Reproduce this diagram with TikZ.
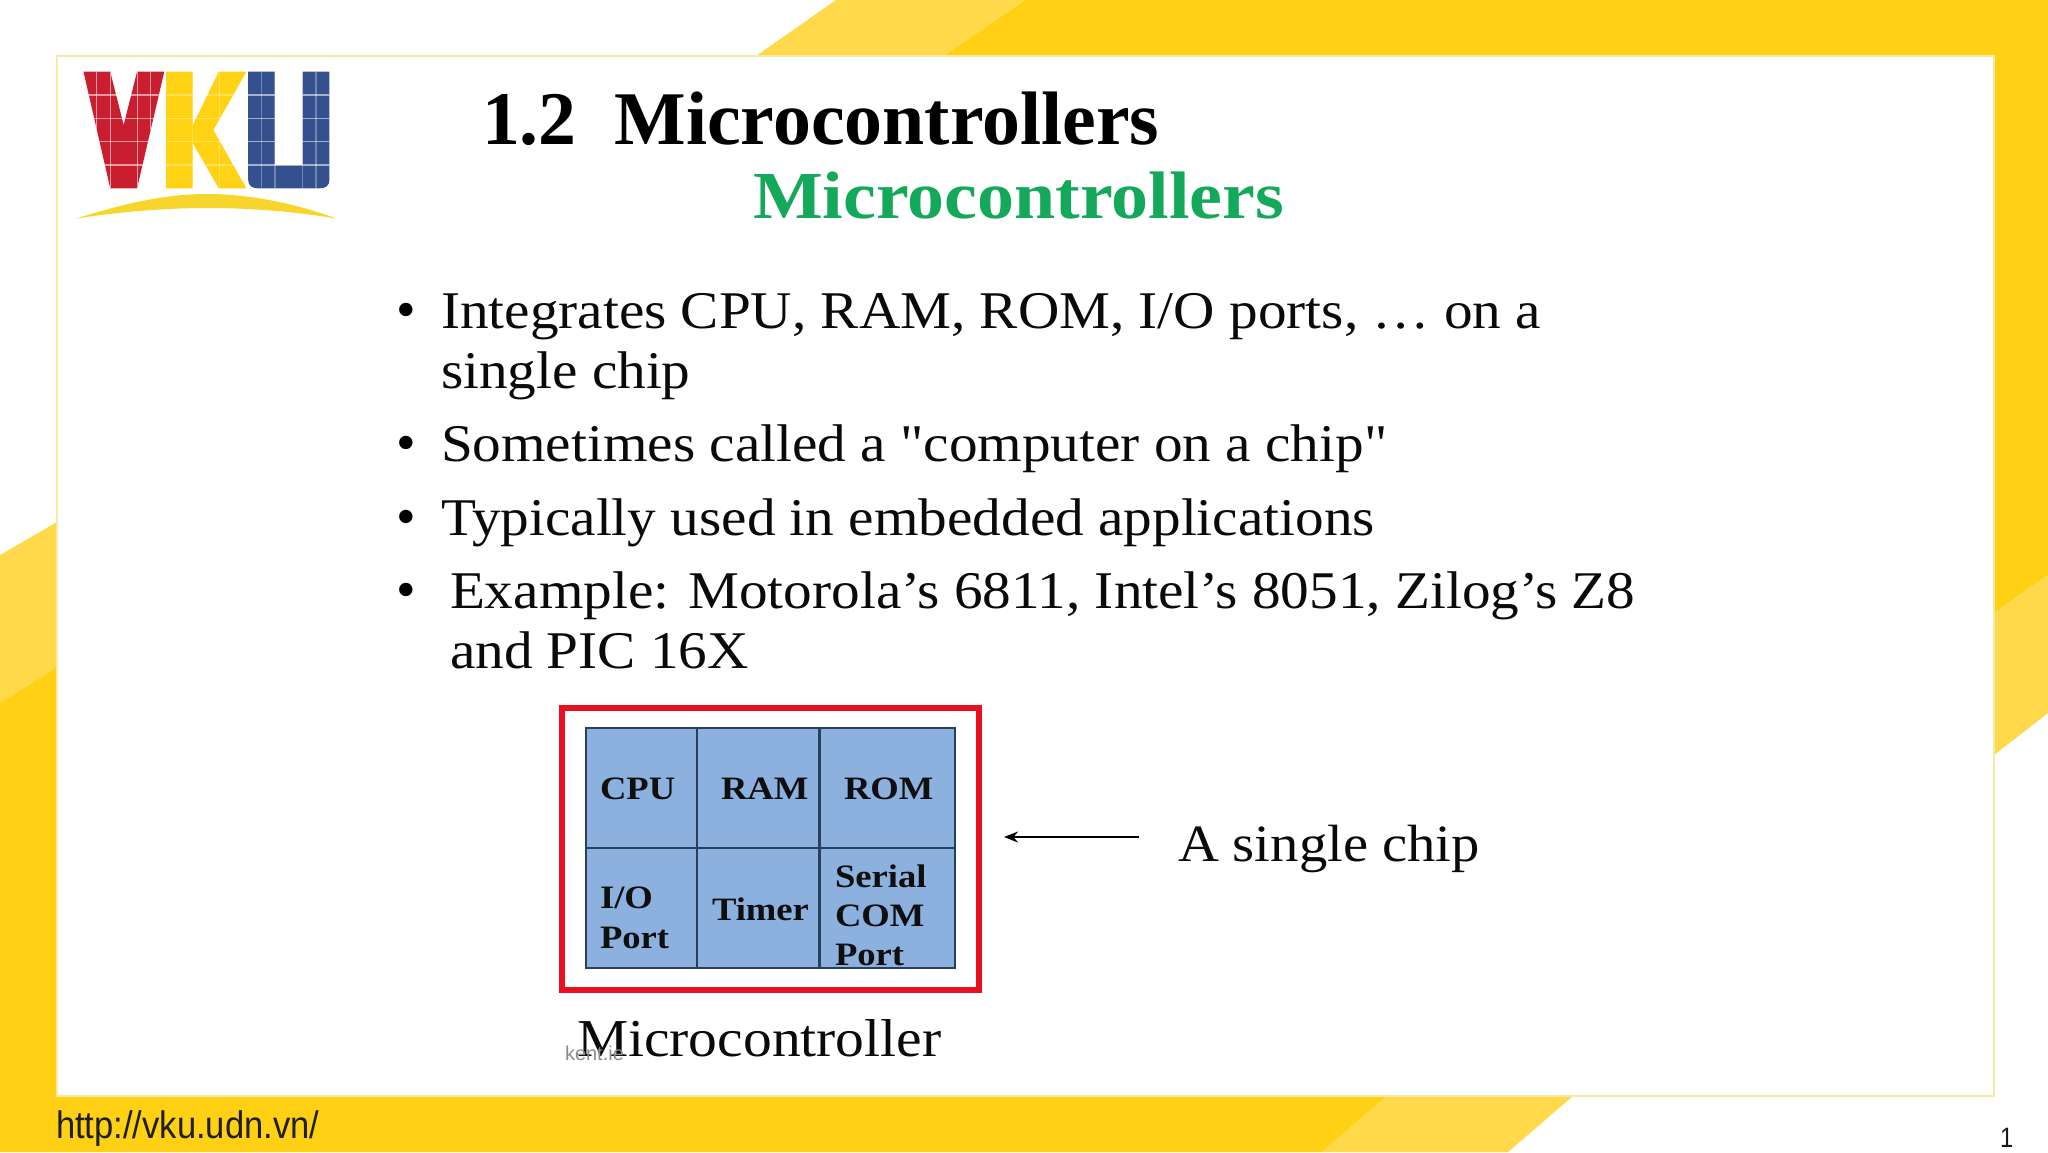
\documentclass[tikz,border=0pt]{standalone}
\usepackage{fontspec}
\setmainfont{Liberation Serif}
\setsansfont{Liberation Sans}
\newfontfamily\bodyfam[FakeStretch=1.08]{Liberation Serif}
\newfontfamily\chipfam[FakeStretch=1.12]{Liberation Serif}
\newfontfamily\greenfam[FakeStretch=1.10]{Liberation Serif}
\newfontfamily\urlfam[FakeStretch=0.9]{Liberation Sans}
\newfontfamily\pagefam[FakeStretch=0.85]{Liberation Sans}
\usetikzlibrary{arrows.meta}
\definecolor{ydark}{HTML}{FFD014}
\definecolor{ylight}{HTML}{FFD94A}
\definecolor{framec}{HTML}{F2EBA8}
\definecolor{chipblue}{HTML}{8CB1DF}
\definecolor{gridc}{HTML}{2A3F5C}
\definecolor{redbox}{HTML}{E8101E}
\definecolor{titlegreen}{HTML}{14A85A}
\definecolor{vred}{HTML}{C81E30}
\definecolor{kyel}{HTML}{FFD214}
\definecolor{ublue}{HTML}{34508F}
\definecolor{arcy}{HTML}{F7D52C}
\tikzset{
  txt/.style={anchor=base west,inner sep=0pt,outer sep=0pt,text=black!96},
  bodytext/.style={txt,font=\bodyfam\fontsize{26.5pt}{26.5pt}\selectfont},
  bullettext/.style={txt,font=\rmfamily\fontsize{28pt}{28pt}\selectfont,text=black},
  cell/.style={txt,font=\chipfam\bfseries\fontsize{16.35pt}{16.35pt}\selectfont,text=black!94},
  gridline/.style={draw=gridc,line width=1.1pt},
  logogrid/.style={draw=white,draw opacity=0.55,line width=0.6pt}
}
\begin{document}
\begin{tikzpicture}[x=0.5pt,y=-0.5pt]
\useasboundingbox (0,0) rectangle (2048,1152);
\fill[white] (0,0) rectangle (2048,1152);
% yellow surround
\fill[ydark] (943,56) -- (1025,0) -- (2048,0) -- (2048,575) -- (1994,613) -- (1994,56) -- cycle;
\fill[ylight] (756,56) -- (836,0) -- (1025,0) -- (943,56) -- cycle;
\fill[ylight] (1994,613) -- (2048,575) -- (2048,713) -- (1994,755) -- cycle;
\fill[ylight] (0,555) -- (57,522) -- (57,667) -- (0,703) -- cycle;
\fill[ydark] (0,703) -- (57,667) -- (57,1096) -- (1387,1096) -- (1322,1152) -- (0,1152) -- cycle;
\fill[ylight] (1387,1096) -- (1573,1096) -- (1508,1152) -- (1322,1152) -- cycle;
\draw[framec,line width=1.2pt,fill=white] (57,56) rectangle (1994,1096);
% logo
\begin{scope}[x=0.2232pt,y=-0.16667pt]
  \begin{scope}
    \clip (187,215) -- (247,215) -- (277,375) -- (307,215) -- (368,215) -- (307,565) -- (247,565) -- cycle;
    \fill[vred] (180,210) rectangle (370,570);
    \foreach \yy in {285,355,425,495} \draw[logogrid] (180,\yy) -- (370,\yy);
    \foreach \xx in {217,247,308,338} \draw[logogrid] (\xx,210) -- (\xx,570);
  \end{scope}
  \begin{scope}
    \clip (372,215) -- (432,215) -- (432,375) -- (490,215) -- (552,215) -- (478,390) -- (552,565) -- (490,565) -- (432,430) -- (432,565) -- (372,565) -- cycle;
    \fill[kyel] (370,210) rectangle (555,570);
    \foreach \yy in {285,355,425,495} \draw[logogrid,draw opacity=0.3] (370,\yy) -- (555,\yy);
    \foreach \xx in {432,492} \draw[logogrid,draw opacity=0.3] (\xx,210) -- (\xx,570);
  \end{scope}
  \begin{scope}
    \clip (556,215) -- (616,215) -- (616,495) -- (678,495) -- (678,215) -- (738,215) -- (738,540) .. controls (738,556) and (730,565) .. (716,565) -- (578,565) .. controls (564,565) and (556,556) .. (556,540) -- cycle;
    \fill[ublue] (550,210) rectangle (745,570);
    \foreach \yy in {285,355,425,495} \draw[logogrid] (550,\yy) -- (745,\yy);
    \foreach \xx in {586,616,678,708} \draw[logogrid,draw opacity=0.3] (\xx,210) -- (\xx,570);
  \end{scope}
  \fill[arcy] (170,656) .. controls (300,600) and (390,582) .. (462,582) .. controls (540,582) and (640,600) .. (755,656) .. controls (640,630) and (540,624) .. (462,624) .. controls (390,624) and (280,632) .. (170,656) -- cycle;
\end{scope}
% titles
\node[txt,font=\bfseries\fontsize{37.9pt}{37.9pt}\selectfont,text=black] (title) at (482,144) {1.2\ \ Microcontrollers};
\node[txt,font=\greenfam\bfseries\fontsize{33.6pt}{33.6pt}\selectfont,text=titlegreen] (subtitle) at (753,218) {Microcontrollers};
% bullets
\node[bullettext] (b1) at (396,328) {•};
\node[bodytext] (l1a) at (441,328) {Integrates CPU, RAM, ROM, I/O ports, … on a};
\node[bodytext] (l1b) at (441,388) {single chip};
\node[bullettext] (b2) at (396,461) {•};
\node[bodytext] (l2) at (441,461) {Sometimes called a "computer on a chip"};
\node[bullettext] (b3) at (396,535.5) {•};
\node[bodytext] (l3) at (441,535.5) {Typically used in embedded applications};
\node[bullettext] (b4) at (396,608.5) {•};
\node[bodytext] (l4a) at (450,608.5) {Example: Motorola’s 6811, Intel’s 8051, Zilog’s Z8};
\node[bodytext] (l4b) at (450,668.5) {and PIC 16X};
% chip
\node[draw=redbox,line width=3pt,inner sep=0pt,outer sep=0pt,minimum width=208.5pt,minimum height=141pt,anchor=north west] (redframe) at (562,708) {};
\fill[chipblue] (586,728) rectangle (955,968);
\draw[gridline] (586,728) rectangle (955,968);
\draw[gridline] (586,848) -- (955,848);
\draw[gridline] (697,728) -- (697,968);
\draw[gridline] (819.5,728) -- (819.5,968);
\node[cell] (cpu) at (600,799) {CPU};
\node[cell] (ram) at (721,799) {RAM};
\node[cell] (rom) at (844,799) {ROM};
\node[cell] (io) at (600,908) {I/O};
\node[cell] (port) at (600,948) {Port};
\node[cell] (timer) at (712,920) {Timer};
\node[cell] (serial) at (835,887) {Serial};
\node[cell] (com) at (835,926) {COM};
\node[cell] (port2) at (835,965) {Port};
% arrow and labels
\coordinate (arrowstart) at (1139,837);
\coordinate (arrowend) at (1004,837);
\draw[black,line width=1.3pt,-{Stealth[length=7pt,width=5.5pt]}] (arrowstart) -- (arrowend);
\node[txt,font=\bodyfam\fontsize{26.2pt}{26.2pt}\selectfont] (single) at (1178,861) {A single chip};
\node[txt,font=\bodyfam\fontsize{26.65pt}{26.65pt}\selectfont] (micro) at (577,1056) {Microcontroller};
\node[txt,font=\sffamily\fontsize{10pt}{10pt}\selectfont,text=black!45] (kent) at (565,1060) {kent.ie};
% footer
\node[txt,font=\urlfam\fontsize{19.2pt}{19.2pt}\selectfont,text=black!88] (url) at (56,1138) {http://vku.udn.vn/};
\node[txt,font=\pagefam\fontsize{14pt}{14pt}\selectfont,text=black!90] (page) at (2000,1147) {1};
\end{tikzpicture}
\end{document}
